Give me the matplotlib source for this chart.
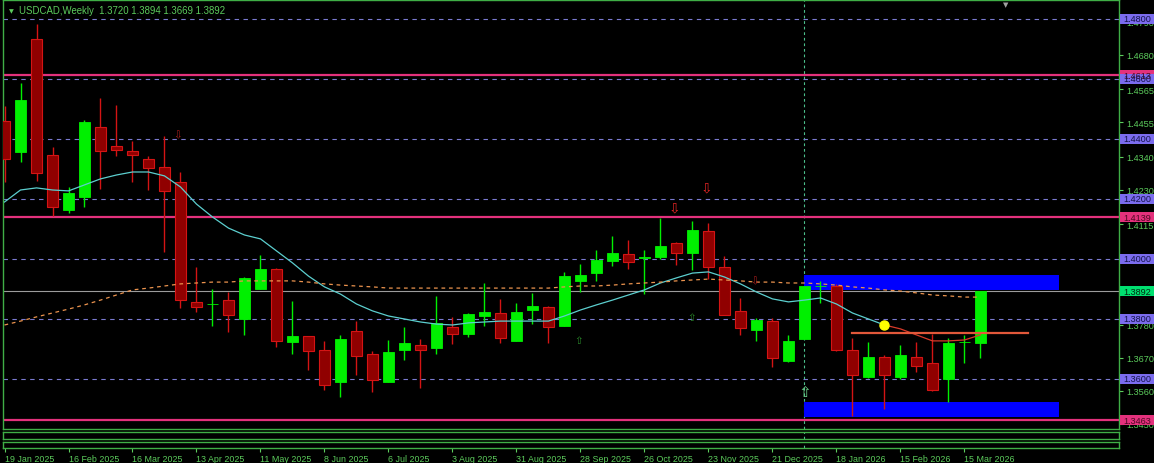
import numpy as np
import pandas as pd
import matplotlib
matplotlib.use("Agg")
from matplotlib import pyplot as plt
from matplotlib.patches import Rectangle

plt.rcParams['font.family'] = ['Liberation Sans', 'DejaVu Sans']

symbol = "USDCAD,Weekly"
first_week = "2025-01-19"

# weekly OHLC, one bar per week starting 19 Jan 2025
opens = [1.4460, 1.4358, 1.4733, 1.4346, 1.4164, 1.4206, 1.4439, 1.4376, 1.4359, 1.4333,
         1.4306, 1.4256, 1.3856, 1.3849, 1.3862, 1.3799, 1.3899, 1.3966, 1.3724, 1.3742,
         1.3697, 1.3589, 1.3759, 1.3683, 1.3589, 1.3698, 1.3713, 1.3704, 1.3773, 1.3751,
         1.3811, 1.3819, 1.3728, 1.3831, 1.3840, 1.3778, 1.3928, 1.3952, 1.3992, 1.4016,
         1.4003, 1.4008, 1.4053, 1.4019, 1.4092, 1.3972, 1.3826, 1.3764, 1.3792, 1.3661,
         1.3733, 1.3909, 1.3909, 1.3698, 1.3607, 1.3673, 1.3607, 1.3673, 1.3652, 1.3599,
         1.3722, 1.3720]
highs = [1.4510, 1.4586, 1.4783, 1.4372, 1.4239, 1.4463, 1.4537, 1.4513, 1.4393, 1.4343,
         1.4409, 1.4289, 1.3972, 1.3900, 1.3889, 1.3941, 1.4013, 1.3970, 1.3859, 1.3742,
         1.3726, 1.3747, 1.3794, 1.3694, 1.3729, 1.3773, 1.3732, 1.3877, 1.3807, 1.3820,
         1.3920, 1.3867, 1.3853, 1.3888, 1.3844, 1.3956, 1.3982, 1.4031, 1.4077, 1.4063,
         1.4031, 1.4136, 1.4058, 1.4127, 1.4119, 1.4009, 1.3871, 1.3802, 1.3802, 1.3747,
         1.3911, 1.3928, 1.3917, 1.3737, 1.3723, 1.3680, 1.3712, 1.3724, 1.3750, 1.3738,
         1.3746, 1.3894]
lows = [1.4257, 1.4324, 1.4261, 1.4144, 1.4152, 1.4174, 1.4233, 1.4344, 1.4256, 1.4229,
        1.4022, 1.3836, 1.3822, 1.3778, 1.3758, 1.3748, 1.3899, 1.3706, 1.3683, 1.3631,
        1.3564, 1.3539, 1.3614, 1.3556, 1.3589, 1.3663, 1.3571, 1.3684, 1.3718, 1.3741,
        1.3778, 1.3721, 1.3728, 1.3784, 1.3721, 1.3778, 1.3889, 1.3926, 1.3978, 1.3967,
        1.3883, 1.4000, 1.3980, 1.3964, 1.3933, 1.3814, 1.3748, 1.3728, 1.3639, 1.3656,
        1.3733, 1.3852, 1.3692, 1.3478, 1.3603, 1.3500, 1.3600, 1.3622, 1.3561, 1.3524,
        1.3652, 1.3669]
closes = [1.4333, 1.4530, 1.4286, 1.4174, 1.4220, 1.4457, 1.4359, 1.4363, 1.4346, 1.4302,
          1.4226, 1.3863, 1.3841, 1.3851, 1.3814, 1.3936, 1.3966, 1.3728, 1.3743, 1.3694,
          1.3581, 1.3732, 1.3676, 1.3598, 1.3689, 1.3719, 1.3698, 1.3786, 1.3751, 1.3817,
          1.3822, 1.3738, 1.3822, 1.3843, 1.3774, 1.3943, 1.3947, 1.3997, 1.4019, 1.3989,
          1.4005, 1.4042, 1.4019, 1.4097, 1.3972, 1.3814, 1.3769, 1.3796, 1.3670, 1.3728,
          1.3909, 1.3911, 1.3698, 1.3614, 1.3673, 1.3614, 1.3680, 1.3642, 1.3564, 1.3720,
          1.3724, 1.3892]

# fast moving average (cyan, turns red from bar 55)
ma_fast = [1.4190, 1.4230, 1.4237, 1.4230, 1.4227, 1.4247, 1.4267, 1.4280, 1.4290, 1.4290,
           1.4277, 1.4240, 1.4183, 1.4140, 1.4103, 1.4080, 1.4067, 1.4027, 1.3987, 1.3943,
           1.3907, 1.3883, 1.3850, 1.3827, 1.3810, 1.3800, 1.3790, 1.3783, 1.3780, 1.3787,
           1.3790, 1.3793, 1.3793, 1.3793, 1.3793, 1.3810, 1.3830, 1.3847, 1.3863, 1.3880,
           1.3897, 1.3920, 1.3937, 1.3953, 1.3957, 1.3940, 1.3917, 1.3890, 1.3867, 1.3857,
           1.3863, 1.3870, 1.3850, 1.3820, 1.3800, 1.3780, 1.3767, 1.3747, 1.3727, 1.3727,
           1.3730, 1.3747]
ma_turn = 55
# slow moving average (orange dashed)
ma_slow = [1.3780, 1.3793, 1.3807, 1.3820, 1.3833, 1.3847, 1.3863, 1.3880, 1.3897, 1.3903,
           1.3910, 1.3917, 1.3920, 1.3923, 1.3923, 1.3927, 1.3927, 1.3927, 1.3927, 1.3923,
           1.3917, 1.3913, 1.3910, 1.3907, 1.3903, 1.3903, 1.3903, 1.3903, 1.3903, 1.3903,
           1.3903, 1.3903, 1.3903, 1.3903, 1.3903, 1.3907, 1.3910, 1.3910, 1.3913, 1.3917,
           1.3920, 1.3923, 1.3927, 1.3930, 1.3933, 1.3930, 1.3927, 1.3923, 1.3923, 1.3920,
           1.3920, 1.3917, 1.3913, 1.3907, 1.3903, 1.3897, 1.3893, 1.3887, 1.3880, 1.3877,
           1.3873, 1.3873]

# chart objects
grid_levels = [1.48, 1.46, 1.44, 1.42, 1.40, 1.38, 1.36]
pink_levels = [1.4613, 1.4139, 1.3463]
axis_ticks = [1.4790, 1.4680, 1.4565, 1.4455, 1.4340, 1.4230, 1.4115,
              1.3780, 1.3670, 1.3560, 1.3450]
zones = [(50.0, 65.9, 1.38967, 1.39477), (50.0, 65.9, 1.34743, 1.35233)]  # bar from, bar to, low, high
trend_bars = [53.0, 64.0]
trend_price = 1.37533
separator_bar = 50
down_arrows = [(10.85, 1.4417, 7.5), (41.85, 1.4173, 10), (43.9, 1.4240, 10), (46.9, 1.3930, 7.5)]
up_arrows = [(35.9, 1.3730, 7.5), (42.95, 1.3807, 7.5), (50.0, 1.3557, 11)]

W, H = 1154, 464
BG = 'black'
FRAME = '#3fae46'
TXT = '#5ccc5c'
BULL = '#00f000'
BEAR_FILL = '#900000'
BEAR_EDGE = '#d41414'
PINK = '#e3317c'
PURPLE = '#7b6cee'
GRIDC = '#7a7ad0'

fig = plt.figure(figsize=(W / 100, H / 100), dpi=100, facecolor=BG)


def px_box(x0, y0, x1, y1):
    return [x0 / W, 1 - y1 / H, (x1 - x0) / W, (y1 - y0) / H]


ax = fig.add_axes(px_box(3, 1, 1119, 430))
sub1 = fig.add_axes(px_box(3, 433, 1119, 440))
sub2 = fig.add_axes(px_box(3, 442.6, 1119, 449))

xlim = (-0.094, 69.66)
for a in (ax, sub1, sub2):
    a.set_facecolor(BG)
    a.set_xlim(*xlim)
    for s in a.spines.values():
        s.set_color(FRAME)
        s.set_linewidth(1.0)
    a.axvline(separator_bar, color='#4cc08c', lw=0.8, ls=(0, (2.5, 2.5)), zorder=1)
sub1.set_xticks([]); sub1.set_yticks([])
sub2.set_yticks([])

ax.set_ylim(1.34333, 1.48633)

o = np.array(opens); h = np.array(highs); l = np.array(lows); c = np.array(closes)
k = np.arange(len(o))
up = c >= o

# background objects
for k0, k1, p0, p1 in zones:
    ax.add_patch(Rectangle((k0, p0), k1 - k0, p1 - p0, color='#0000ff', lw=0, zorder=1))
for lv in grid_levels:
    ax.axhline(lv, color=GRIDC, lw=0.8, ls=(0, (4, 4)), zorder=1.5)
for lv in pink_levels:
    ax.axhline(lv, color=PINK, lw=1.6, zorder=2)
ax.axhline(closes[-1], color='#9c9c9c', lw=0.8, zorder=2)

# candles
ax.vlines(k[up], l[up], h[up], color=BULL, lw=1.0, zorder=3)
ax.vlines(k[~up], l[~up], h[~up], color=BEAR_EDGE, lw=1.0, zorder=3)
body = np.maximum(np.abs(c - o), 0.00012)
bot = np.minimum(o, c)
ax.bar(k[up], body[up], bottom=bot[up], width=0.66, color=BULL, edgecolor=BULL, lw=0.6, zorder=4)
ax.bar(k[~up], body[~up], bottom=bot[~up], width=0.66, color=BEAR_FILL, edgecolor=BEAR_EDGE, lw=0.8, zorder=4)

# indicators
ax.plot(k[:ma_turn + 1], ma_fast[:ma_turn + 1], color='#5ccfcf', lw=0.9, zorder=5)
ax.plot(k[ma_turn:], ma_fast[ma_turn:], color='#d83a2a', lw=0.9, zorder=5)
ax.plot(k, ma_slow, color='#eb934e', lw=0.9, ls=(0, (3, 3)), zorder=5)
ax.plot(trend_bars, [trend_price, trend_price], color='#e2583a', lw=1.6, zorder=5)
ax.plot([ma_turn], [ma_fast[ma_turn]], 'o', color='#ffff00', ms=6.5, zorder=6)

for bx, py, fs in down_arrows:
    col = '#e02424' if fs > 8 else '#a81c1c'
    ax.text(bx, py, '\u21e9', color=col, fontsize=fs, ha='center', va='center',
            family='DejaVu Sans', zorder=6)
for bx, py, fs in up_arrows:
    col = '#6ed08a' if fs > 8 else '#2a8a2a'
    ax.text(bx, py, '\u21e7', color=col, fontsize=fs, ha='center', va='center',
            family='DejaVu Sans', zorder=6)

# right price scale
ax.yaxis.tick_right()
ax.set_yticks(axis_ticks)
ax.set_yticklabels([f'{t:.4f}' for t in axis_ticks])
ax.tick_params(axis='y', colors=TXT, labelsize=6.6, length=3, width=0.8, pad=2)
ax.tick_params(axis='x', bottom=False, labelbottom=False)

tr = ax.get_yaxis_transform()
half = 0.00167
box_x0 = (1120 - 3) / 1116
box_w = 0.031
text_x = (1123 - 3) / 1116


def price_box(val, fc, tc):
    ax.add_patch(Rectangle((box_x0, val - half), box_w, 2 * half, transform=tr,
                           facecolor=fc, edgecolor='none', clip_on=False, zorder=7))
    ax.text(text_x, val, f'{val:.4f}', transform=tr, color=tc, fontsize=6.6,
            ha='left', va='center', clip_on=False, zorder=8)


for lv in pink_levels:
    price_box(lv, PINK, '#4a0822')
for lv in grid_levels:
    price_box(lv, PURPLE, '#14144a')
price_box(closes[-1], '#00e070', '#002a10')

# time scale
dates = pd.date_range(first_week, periods=len(o), freq='7D')
tick_idx = k[::4]
sub2.set_xticks(tick_idx)
sub2.set_xticklabels([f'{d.day} {d.strftime("%b %Y")}' for d in dates[tick_idx]], ha='left')
sub2.tick_params(axis='x', colors=TXT, labelsize=6.4, length=3, width=0.8, pad=1.5)

# header
fig.text(11 / W, 1 - 11.5 / H, '\u25bc', color=TXT, fontsize=4.5, ha='center', va='center',
         family='DejaVu Sans')
fig.text(19 / W, 1 - 11 / H, f'{symbol}  {opens[-1]:.4f} {highs[-1]:.4f} {lows[-1]:.4f} {closes[-1]:.4f}',
         color=TXT, fontsize=6.9, ha='left', va='center')
fig.text(1006 / W, 1 - 5 / H, '\u25bc', color='#a0a0a0', fontsize=5, ha='center', va='center',
         family='DejaVu Sans')

fig.savefig('out.png', dpi=100, facecolor=BG)
